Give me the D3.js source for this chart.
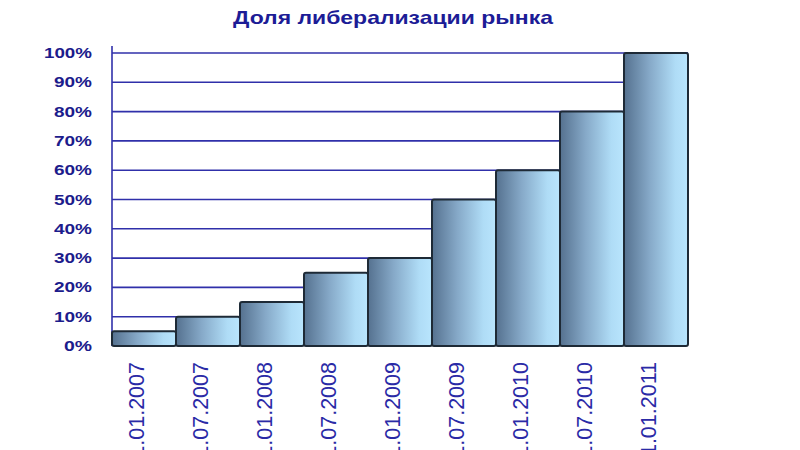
<!DOCTYPE html>
<html>
<head>
<meta charset="utf-8">
<script src="https://cdn.jsdelivr.net/npm/d3@7"></script>
<style>
  html, body { margin: 0; padding: 0; background: #fff; }
  svg { display: block; }
</style>
</head>
<body>
<svg id="chart" width="800" height="450"></svg>
<script>
const categories = ["01.01.2007", "01.07.2007", "01.01.2008", "01.07.2008", "01.01.2009", "01.07.2009", "01.01.2010", "01.07.2010", "01.01.2011"];
const values = [5, 10, 15, 25, 30, 50, 60, 80, 100];
const yTicks = [0, 10, 20, 30, 40, 50, 60, 70, 80, 90, 100];
const title = "Доля либерализации рынка";

const svg = d3.select("#chart");
const plotLeft = 112, plotRight = 688, plotTop = 53, plotBottom = 346;

const x = d3.scaleBand().domain(categories).range([plotLeft, plotRight]).padding(0);
const y = d3.scaleLinear().domain([0, 100]).range([plotBottom, plotTop]);

const defs = svg.append("defs");
const grad = defs.append("linearGradient").attr("id", "barGrad")
  .attr("x1", "0%").attr("x2", "100%").attr("y1", "0%").attr("y2", "0%");
grad.append("stop").attr("offset", "0%").attr("stop-color", "#55718f");
grad.append("stop").attr("offset", "40%").attr("stop-color", "#86a9c8");
grad.append("stop").attr("offset", "80%").attr("stop-color", "#afdcf6");
grad.append("stop").attr("offset", "100%").attr("stop-color", "#b9e5fd");

// Title
svg.append("text")
  .attr("x", 393).attr("y", 24)
  .attr("text-anchor", "middle")
  .attr("font-family", "Arial, 'Liberation Sans', sans-serif")
  .attr("font-weight", "bold")
  .attr("font-size", 19)
  .attr("fill", "#1c1c96")
  .attr("textLength", 320)
  .attr("lengthAdjust", "spacingAndGlyphs")
  .text(title);

// Gridlines
svg.append("g").selectAll("line").data(yTicks.filter(d => d > 0)).join("line")
  .attr("x1", plotLeft).attr("x2", plotRight)
  .attr("y1", d => y(d)).attr("y2", d => y(d))
  .attr("stroke", "#3030aa").attr("stroke-width", 1.6);

// Left axis line
svg.append("line")
  .attr("x1", plotLeft).attr("x2", plotLeft)
  .attr("y1", plotTop - 7).attr("y2", plotBottom)
  .attr("stroke", "#3030aa").attr("stroke-width", 1.6);

// Y labels
svg.append("g").selectAll("text").data(yTicks).join("text")
  .attr("x", 92).attr("y", d => y(d))
  .attr("dy", "0.36em")
  .attr("text-anchor", "end")
  .attr("font-family", "Arial, 'Liberation Sans', sans-serif")
  .attr("font-weight", "bold")
  .attr("font-size", 14)
  .attr("fill", "#1c1c8c")
  .attr("textLength", d => d === 100 ? 48 : (d === 0 ? 28 : 38))
  .attr("lengthAdjust", "spacingAndGlyphs")
  .text(d => d + "%");

// Bars
svg.append("g").selectAll("rect").data(values).join("rect")
  .attr("x", (d, i) => x(categories[i]))
  .attr("y", d => y(d))
  .attr("width", x.bandwidth())
  .attr("height", d => plotBottom - y(d))
  .attr("rx", 2)
  .attr("fill", "url(#barGrad)")
  .attr("stroke", "#1e2a36")
  .attr("stroke-width", 2);

// X labels
svg.append("g").selectAll("text").data(categories).join("text")
  .attr("transform", d => `translate(${x(d) + x.bandwidth() / 2},362) rotate(-90)`)
  .attr("text-anchor", "end")
  .attr("font-family", "Arial, 'Liberation Sans', sans-serif")
  .attr("font-size", 21.5)
  .attr("fill", "#2a2aa6")
  .text(d => d);
</script>
</body>
</html>
